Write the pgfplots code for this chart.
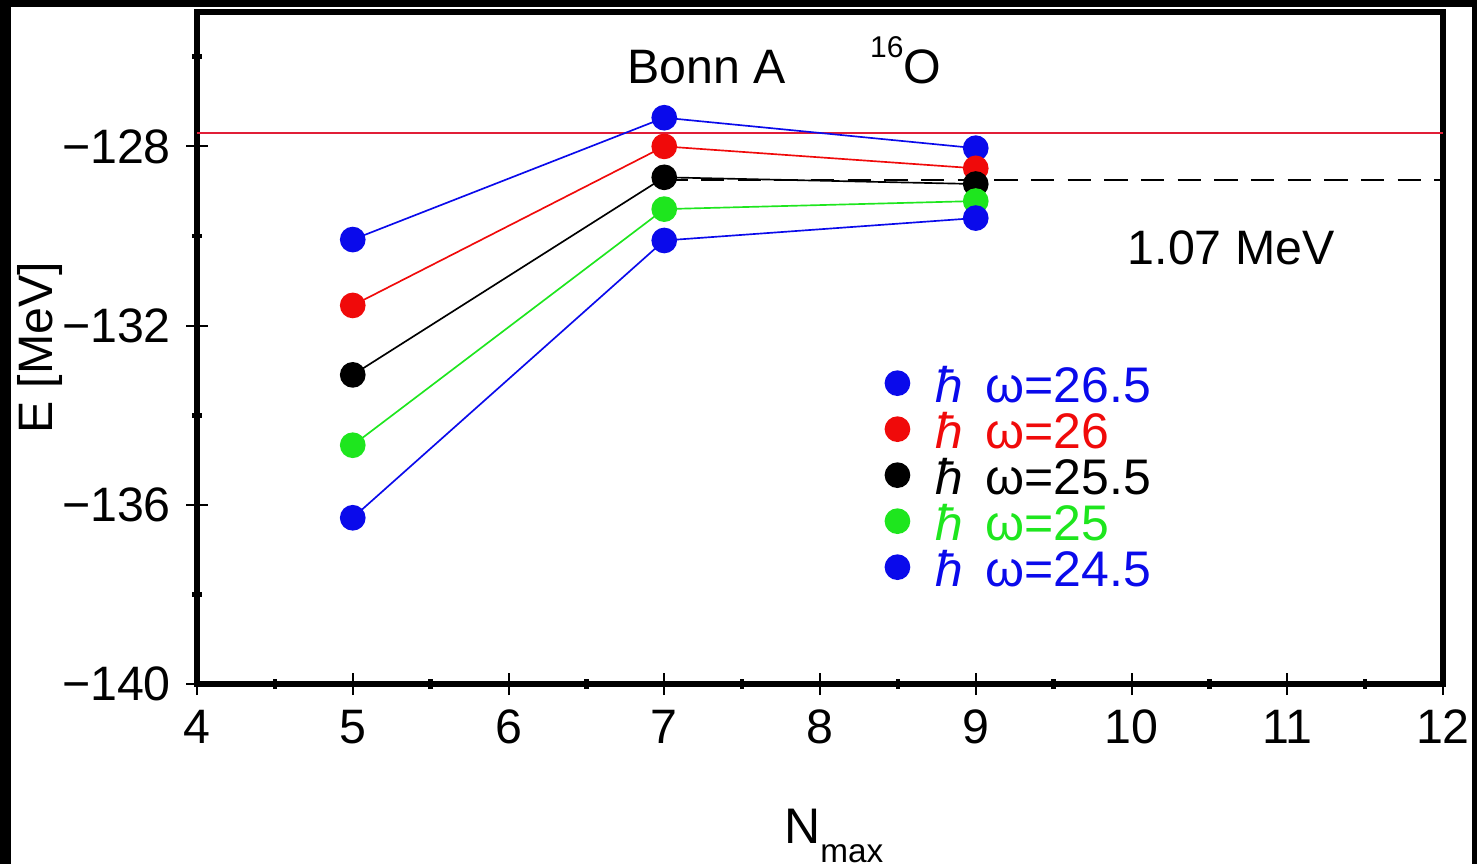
\documentclass[border=0pt]{standalone}
\usepackage{pgfplots}
\pgfplotsset{compat=1.18}
\usepackage{fontspec}
\setmainfont{Liberation Sans}

\definecolor{cblue}{RGB}{10,10,235}
\definecolor{cred}{RGB}{240,10,10}
\definecolor{cgreen}{RGB}{30,230,30}
\definecolor{refred}{RGB}{225,30,55}

\begin{document}
\begin{tikzpicture}
% black frame of the original screenshot
\fill[black] (-59.1pt,-54pt) rectangle (384pt,205.2pt);
\fill[white] (-55.8pt,-54pt) rectangle (382.5pt,203.1pt);

\begin{axis}[
  scale only axis,
  width=373.8pt, height=201.6pt,
  xmin=4, xmax=12, ymin=-140, ymax=-125,
  xtick={4,5,...,12},
  minor xtick={4.5,5.5,...,11.5},
  ytick={-140,-136,-132,-128},
  yticklabels={−140,−136,−132,−128},
  minor ytick={-138,-134,-130,-126},
  tick align=center,
  xtick pos=bottom, ytick pos=left,
  major tick length=6.6pt, minor tick length=3pt,
  every major tick/.style={black, line width=0.6pt},
  every minor tick/.style={black, line width=1.4pt},
  axis line style={line width=1.7pt},
  tick label style={font=\fontsize{14.5}{14.5}\selectfont},
  /pgf/number format/assume math mode=true,
  xticklabel style={yshift=-1pt},
  yticklabel style={xshift=-1pt},
  every axis x label/.style={at={(axis description cs:0.511,0)}, anchor=base, yshift=-47.7pt},
  every axis y label/.style={at={(axis description cs:-0.126,0.5)}, rotate=90, anchor=center},
  xlabel={\fontsize{15}{15}\selectfont N\raisebox{-5.7pt}{\fontsize{10}{10}\selectfont max}},
  ylabel={\fontsize{14.5}{14.5}\selectfont E [MeV]},
  clip=false,
  legend style={at={(rel axis cs:0.552,0.470)}, anchor=north west,
    draw=none, fill=none, inner sep=0pt, row sep=0pt, column sep=7.8pt,
    font=\fontsize{15}{15}\selectfont,
    nodes={inner sep=0pt, text height=10pt, text depth=3.8pt}},
  legend cell align=left,
  legend image code/.code={\draw[#1] plot[only marks] coordinates {(0pt,2.6pt)};},
  every axis plot/.append style={line width=0.5pt, mark=*, mark size=3.6pt},
]
\addplot[refred, line width=0.7pt, mark=none, forget plot] coordinates {(4,-127.70) (12,-127.70)};
\addplot[black, dash pattern=on 7pt off 4pt, line width=0.6pt, mark=none, forget plot] coordinates {(7,-128.76) (12,-128.76)};

\addplot[cblue] coordinates {(5,-130.08) (7,-127.36) (9,-128.04)};
\addlegendentry{\textcolor{cblue}{\textit{ħ}\, ω=26.5}}
\addplot[cred] coordinates {(5,-131.55) (7,-128.00) (9,-128.49)};
\addlegendentry{\textcolor{cred}{\textit{ħ}\, ω=26}}
\addplot[black] coordinates {(5,-133.10) (7,-128.69) (9,-128.84)};
\addlegendentry{\textcolor{black}{\textit{ħ}\, ω=25.5}}
\addplot[cgreen] coordinates {(5,-134.67) (7,-129.40) (9,-129.22)};
\addlegendentry{\textcolor{cgreen}{\textit{ħ}\, ω=25}}
\addplot[cblue] coordinates {(5,-136.29) (7,-130.10) (9,-129.60)};
\addlegendentry{\textcolor{cblue}{\textit{ħ}\, ω=24.5}}

\node[anchor=base, font=\fontsize{14.5}{14.5}\selectfont] at (axis cs:7.27,-126.6) {Bonn A};
\node[anchor=base, font=\fontsize{14.5}{14.5}\selectfont] at (axis cs:8.55,-126.6) {\raisebox{8pt}{\fontsize{9}{9}\selectfont 16}O};
\node[anchor=base, font=\fontsize{14.5}{14.5}\selectfont] at (axis cs:10.64,-130.64) {1.07 MeV};
\end{axis}
\pgfresetboundingbox
\useasboundingbox (-59.1pt,-54pt) rectangle (384pt,205.2pt);
\end{tikzpicture}
\end{document}
